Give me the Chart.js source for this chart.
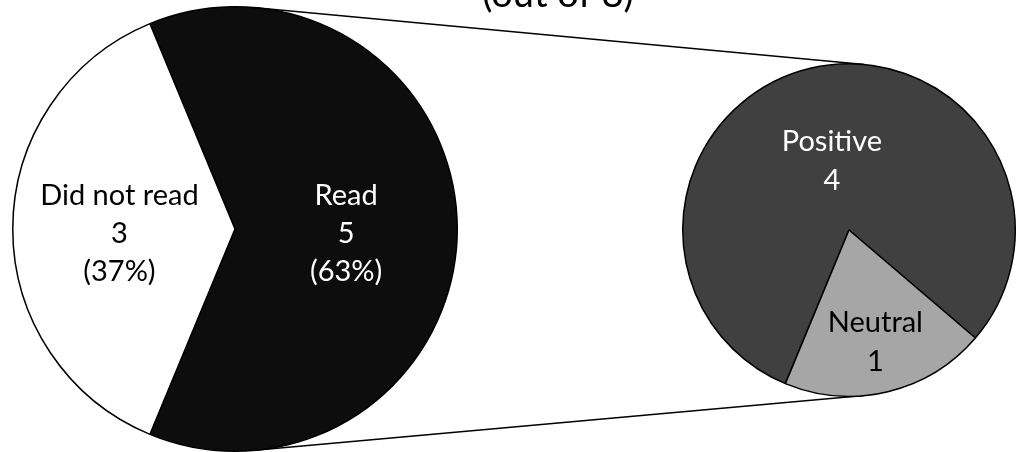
<!DOCTYPE html>
<html>
<head>
<meta charset="utf-8">
<script src="https://cdn.jsdelivr.net/npm/chart.js@4.4.1/dist/chart.umd.min.js"></script>
<style>
  html, body { margin: 0; padding: 0; background: #fff; }
  #wrap { position: relative; width: 1020px; height: 452px; overflow: hidden; }
  #wrap canvas { position: absolute; left: 0; top: 0; }
</style>
</head>
<body>
<div id="wrap">
  <canvas id="mainPie" width="1020" height="452"></canvas>
  <canvas id="subPie" width="1020" height="452"></canvas>
</div>
<script>
const titleText = '(out of 8)';

// primary pie
const mainLabels = ['Read', 'Did not read'];
const mainValues = [5, 3];
const mainPercents = ['63%', '37%'];

// secondary pie (breakdown of "Read")
const subLabels = ['Positive', 'Neutral'];
const subValues = [4, 1];

const FONT = 'Lato, "Noto Sans", sans-serif';

/* text inside each slice, placed along the slice's middle angle */
function sliceText(cfg) {
  return {
    id: 'sliceText',
    afterDatasetsDraw(chart) {
      const ctx = chart.ctx;
      const arcs = chart.getDatasetMeta(0).data;
      ctx.save();
      ctx.font = cfg.font;
      ctx.textAlign = 'center';
      ctx.textBaseline = 'alphabetic';
      arcs.forEach((arc, i) => {
        const lines = cfg.lines[i];
        const mid = (arc.startAngle + arc.endAngle) / 2;
        const r = arc.outerRadius * cfg.radial[i];
        const cx = arc.x + Math.cos(mid) * r;
        const cy = arc.y + Math.sin(mid) * r + cfg.dy;
        ctx.fillStyle = cfg.colors[i];
        lines.forEach((t, k) => {
          ctx.fillText(t, cx, cy + (k - (lines.length - 1) / 2) * cfg.lineHeight);
        });
      });
      ctx.restore();
    }
  };
}

/* the title sits mostly above the frame, only its bottom shows */
const cutTitle = {
  id: 'cutTitle',
  afterDraw(chart) {
    const ctx = chart.ctx;
    ctx.save();
    ctx.font = '38px ' + FONT;
    ctx.fillStyle = '#000';
    ctx.textAlign = 'center';
    ctx.textBaseline = 'alphabetic';
    ctx.fillText(titleText, 558, 7);
    ctx.restore();
  }
};

const mainChart = new Chart(document.getElementById('mainPie'), {
  type: 'pie',
  data: {
    labels: mainLabels,
    datasets: [{
      data: mainValues,
      backgroundColor: ['#0d0d0d', '#ffffff'],
      borderColor: '#000000',
      borderWidth: 1.5,
      hoverOffset: 0
    }]
  },
  options: {
    responsive: false,
    animation: false,
    events: [],
    rotation: -22.5,
    layout: { padding: { left: 12, top: 6, right: 562, bottom: 0 } },
    plugins: {
      legend: { display: false },
      tooltip: { enabled: false }
    }
  },
  plugins: [
    sliceText({
      font: '29px ' + FONT,
      lines: mainLabels.map((l, i) => [l, String(mainValues[i]), '(' + mainPercents[i] + ')']),
      colors: ['#ffffff', '#000000'],
      radial: [0.5, 0.52],
      dy: 14,
      lineHeight: 38
    }),
    cutTitle
  ]
});

/* connector lines: outer common tangents of the two pies */
const connectors = {
  id: 'connectors',
  beforeDatasetsDraw(chart) {
    const a = mainChart.getDatasetMeta(0).data[0];
    const b = chart.getDatasetMeta(0).data[0];
    const dx = b.x - a.x, dy = b.y - a.y;
    const d = Math.hypot(dx, dy);
    const phi = Math.atan2(dy, dx);
    const alpha = Math.acos((a.outerRadius - b.outerRadius) / d);
    const ctx = chart.ctx;
    ctx.save();
    ctx.strokeStyle = '#000';
    ctx.lineWidth = 1.5;
    [phi - alpha, phi + alpha].forEach(t => {
      ctx.beginPath();
      ctx.moveTo(a.x + Math.cos(t) * a.outerRadius, a.y + Math.sin(t) * a.outerRadius);
      ctx.lineTo(b.x + Math.cos(t) * b.outerRadius, b.y + Math.sin(t) * b.outerRadius);
      ctx.stroke();
    });
    ctx.restore();
  }
};

new Chart(document.getElementById('subPie'), {
  type: 'pie',
  data: {
    labels: subLabels,
    datasets: [{
      data: subValues,
      backgroundColor: ['#404040', '#a6a6a6'],
      borderColor: '#000000',
      borderWidth: 1.5,
      hoverOffset: 0
    }]
  },
  options: {
    responsive: false,
    animation: false,
    events: [],
    rotation: 202.5,
    layout: { padding: { left: 682, top: 63, right: 4, bottom: 55 } },
    plugins: {
      legend: { display: false },
      tooltip: { enabled: false }
    }
  },
  plugins: [
    connectors,
    sliceText({
      font: '29px ' + FONT,
      lines: subLabels.map((l, i) => [l, String(subValues[i])]),
      colors: ['#ffffff', '#000000'],
      radial: [0.44, 0.68],
      dy: 12,
      lineHeight: 39
    })
  ]
});
</script>
</body>
</html>
